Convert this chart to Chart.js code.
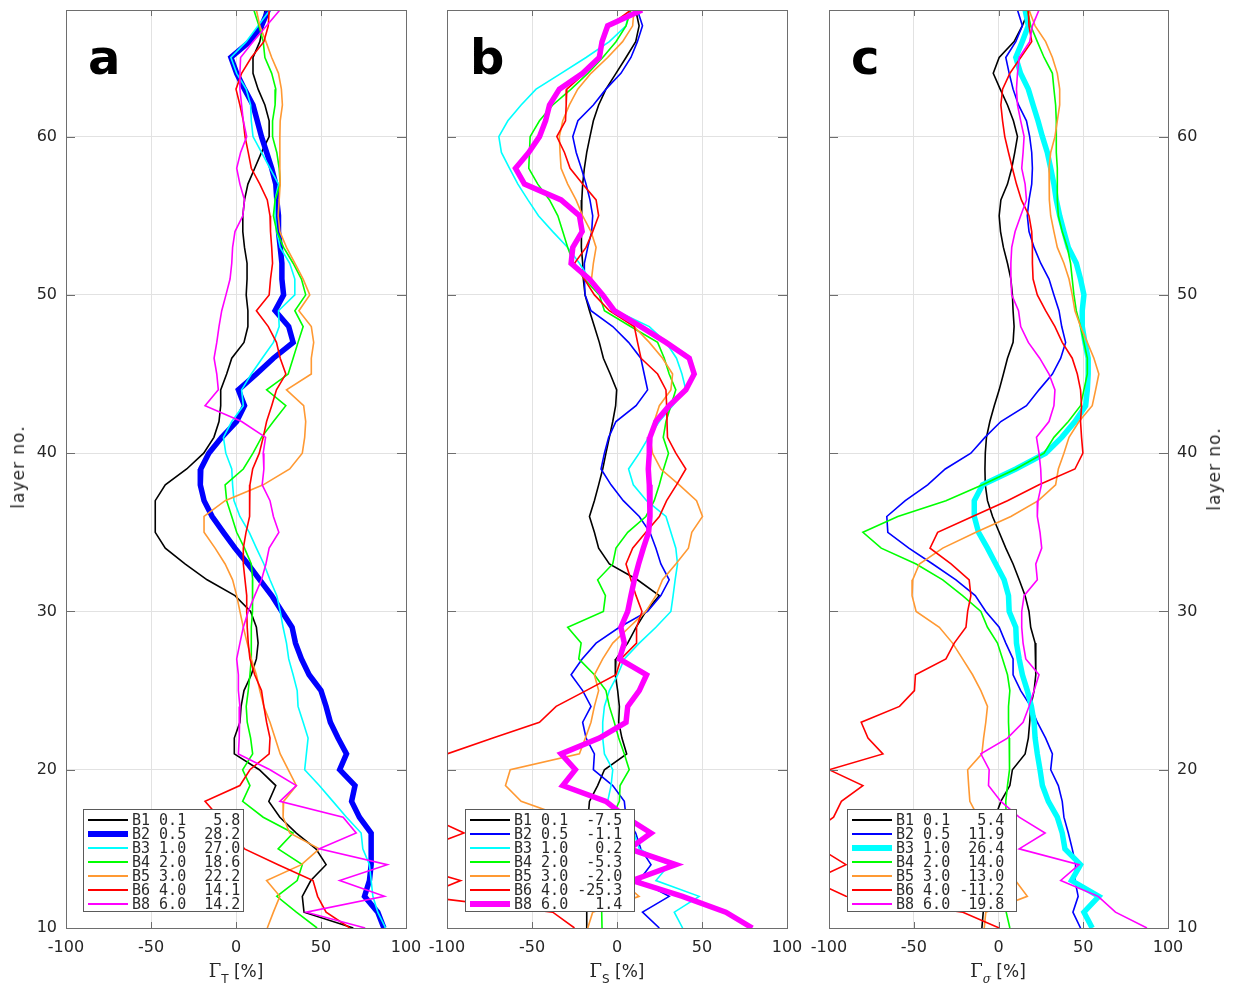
<!DOCTYPE html>
<html>
<head>
<meta charset="utf-8">
<script src="https://cdn.jsdelivr.net/npm/chart.js@4.4.1/dist/chart.umd.min.js"></script>
<style>
  body { margin: 0; background: #fff; }
  #lienzo { position: relative; width: 1234px; height: 987px; overflow: hidden; font-family: "DejaVu Sans", sans-serif; color: #262626; }
  #lienzo canvas { position: absolute; top: 0; }
  .letra { position: absolute; top: 33px; font: bold 48px "DejaVu Sans", sans-serif; line-height: 48px; color: #000; }
  .tituloY { position: absolute; font-size: 17px; letter-spacing: 1px; white-space: nowrap; transform: translate(-50%, -50%) rotate(-90deg); }
  .tituloX { position: absolute; top: 962px; font-size: 17px; line-height: 17px; white-space: nowrap; transform: translateX(-50%); }
  .tituloX .gamma { font-family: "DejaVu Serif", serif; font-size: 18px; }
  .tituloX sub { font-size: 12px; vertical-align: -6px; }
  .tituloX sub.sigma { font-family: "DejaVu Serif", serif; font-style: italic; }
  .leyenda { position: absolute; top: 809px; height: 103px; background: #fff; border: 1px solid #5a5a5a; box-sizing: border-box; }
  .leyenda .muestra { position: absolute; left: 4px; width: 40px; }
  .leyenda .texto { position: absolute; font: 15px "DejaVu Sans Mono", monospace; line-height: 14px; white-space: pre; color: #2b2b2b; }
</style>
</head>
<body>
<div id="lienzo">
  <canvas id="panelA" width="425" height="987" style="left:0px"></canvas>
  <canvas id="panelB" width="383" height="987" style="left:425px"></canvas>
  <canvas id="panelC" width="426" height="987" style="left:808px"></canvas>
</div>
<script>
// capas (eje vertical), de arriba hacia abajo
const capas = [68, 67, 66, 65, 64, 63, 62, 61, 60, 59, 58, 57, 56, 55, 54, 53, 52, 51, 50, 49,
  48, 47, 46, 45, 44, 43, 42, 41, 40, 39, 38, 37, 36, 35, 34, 33, 32, 31, 30, 29,
  28, 27, 26, 25, 24, 23, 22, 21, 20, 19, 18, 17, 16, 15, 14, 13, 12, 11, 10];

const nombres = ["B1", "B2", "B3", "B4", "B5", "B6", "B8"];
const dispersion = ["0.1", "0.5", "1.0", "2.0", "3.0", "4.0", "6.0"];
const colores = ["#000000", "#0000ff", "#00ffff", "#00ff00", "#ff9933", "#ff0000", "#ff00ff"];

// medias de la leyenda
const mediasT = ["5.8", "28.2", "27.0", "18.6", "22.2", "14.1", "14.2"];
const mediasS = ["-7.5", "-1.1", "0.2", "-5.3", "-2.0", "-25.3", "1.4"];
const mediasSig = ["5.4", "11.9", "26.4", "14.0", "13.0", "-11.2", "19.8"];

// panel a: Gamma_T [%]
const gT_B1 = [17, 16, 14, 10, 10, 13, 17, 19.5, 19.5, 15, 11, 7, 5, 4, 4, 5, 6.5, 6.5, 6, 7,
  7, 4.7, -2.5, -5.5, -9, -9, -10, -13, -19, -29, -41.6, -47.5, -47.5, -47.5, -41.6, -30, -17, -0.6, 8.6, 12,
  13, 12, 9, 4.7, 3, 2.3, -1, -1, 13.7, 23.4, 19.3, 25.8, 35.5, 47, 53, 44, 39, 40, 69];
const gT_B2 = [19, 15, 8, -3, 0.4, 5, 10, 12.5, 15, 18, 21, 23.4, 24, 25, 25, 26, 27, 27, 28, 23,
  31, 33.6, 22, 12, 1.4, 5, 0.4, -8.4, -16, -20.7, -21, -18.8, -14, -7.4, -0.6, 7, 14, 21, 27, 33,
  35, 38.5, 43, 50, 53, 55.5, 60, 65, 61, 70, 68, 72.6, 79.5, 79.5, 79.5, 78.5, 75.6, 83.4, 87];
const gT_B3 = [20, 13, 6, -3, 0.4, 6, 8.6, 9, 10, 15, 20, 25, 23, 23, 24, 26, 31.6, 34.6, 34.6, 25,
  25.4, 22, 15.4, 9, 3.3, 4.3, -2.5, -7.4, -6, -2.5, -2, -1.2, 2.3, 7.8, 12, 16.4, 20, 24, 26, 27.7,
  29.7, 31, 33.6, 36, 36.5, 39.5, 42.4, 41.4, 40.4, 49, 57, 65, 73.6, 74.6, 78.5, 79.5, 80.5, 83.4, 88];
const gT_B4 = [10.5, 13.5, 16, 17, 21, 23.4, 23, 21.5, 21.5, 24, 25.4, 26, 23, 22, 24, 28, 33.6, 38.5, 41, 34.6,
  39.5, 36.5, 33.6, 30.7, 18, 29.3, 22, 15, 10, 4.3, -6.4, -5.5, -2.5, 0.4, 5, 9, 9.8, 9.8, 9.6, 9,
  9, 9, 8.2, 7.2, 6, 6.6, 8.6, 9.8, 3.9, 8.2, 3.9, 16, 33.6, 24.8, 39, 36, 24, 35.5, 47.7];
const gT_B5 = [12, 14, 17.6, 21, 25, 26.7, 27.3, 26, 25.8, 25.8, 25.8, 26, 25.4, 24.8, 25.8, 29.7, 34.6, 39.5, 43.4, 37,
  44.3, 45.7, 44.3, 44.3, 29.7, 39.8, 41, 40.4, 39, 31.6, 16, -6.4, -18.8, -18.8, -12.3, -6.4, -2, 0.4, 2.3, 4.3,
  6.6, 9, 12, 14, 16.4, 20, 23, 26, 30.7, 35.5, 28, 27.7, 31.6, 49, 38.5, 18, 25.8, 22, 18.4];
const gT_B6 = [19.5, 19, 16.4, 9, 3.3, 0, 2.3, 4.3, 5.3, 7.2, 9, 14, 18.4, 20, 20.3, 21, 21.5, 20.3, 19.5, 12,
  19, 23.8, 26, 29.3, 23.8, 21, 18, 16, 13.7, 9.8, 8.2, 8.2, 7.8, 5.9, 4.3, 4.3, 5.3, 6.3, 6.3, 6.6,
  7.2, 8.2, 11, 15, 16.4, 18, 20, 19.5, 8.2, 2.3, -18.2, -10, -3, 5, 24.8, 45.3, 48, 53, 67];
const gT_B8 = [25.8, 18, 10, 2.7, 2.3, 2.3, 3.3, 4.3, 6.3, 2.7, 0.4, 2.3, 5, 4, -0.6, -2, -2.5, -3.5, -5.9, -8.4,
  -10, -11.3, -12.9, -11.3, -10.4, -18.2, 3.3, 17.4, 16, 16.4, 15.4, 20, 22, 25.2, 19.5, 17.6, 15, 11, 7.2, 4.3,
  2.3, 0.4, 1.4, 1.4, 2.3, 2, 1.8, 1.4, 20, 35.5, 25.8, 63, 70.7, 49, 89, 61, 87.3, 41.4, 76];

// panel b: Gamma_S [%]
const gS_B1 = [11, 13, 11, 5.3, -0.6, -6.5, -10.8, -13.9, -15.9, -17.8, -19.2, -20.2, -20.7, -21.1, -21.1, -20.7, -20.2, -19.8, -18.8, -16.2,
  -13.3, -10.4, -8, -4, -0.2, -0.8, -2.5, -4.5, -6.5, -8.4, -10.8, -13.3, -16.2, -13.3, -10.8, -4.5, 12, 24.9, 17, 11.2,
  6.3, -0.6, -1, 0.4, 1.4, 1, 2.9, 5.7, -7.4, -11.4, -16.2, -17, -17.5, -17.5, -17.5, -17.5, -17.8, -17.8, -17.8];
const gS_B2 = [12, 15, 12, 8.2, 2.3, -6.5, -13.9, -23, -26, -24, -21, -18.2, -15.9, -14.3, -14.9, -17.2, -19.2, -19.2, -18.8, -15.3,
  -2.5, 6.8, 14, 16, 18, 11.2, -0.6, -4.9, -7.4, -9.4, -3.5, 3.7, 13.1, 19.4, 22.9, 25.8, 30.7, 25.8, 18, 1.4,
  -12.3, -20.5, -27, -20.2, -15.3, -20.2, -18.2, -13.3, -13.9, -2.5, 4.3, 5.3, 11, 14, 20, 13, 30.7, 15, 24.9];
const gS_B3 = [7.2, 5.3, -4.5, -18.2, -32.9, -47.6, -56.4, -64.2, -69.5, -68, -63.2, -58.3, -52.4, -46.2, -37.8, -29, -22.1, -16.2, -9.4, -0.6,
  19, 28.8, 35, 38.2, 40.5, 32.7, 24.9, 18.6, 13.1, 6.8, 9.6, 17.4, 28.8, 31.7, 34.6, 35.6, 34.2, 33, 31.7, 22.9,
  13.1, 4.3, 0.4, -4.5, -7.4, -8.4, -8.4, -7.4, -2.5, -3.5, -5.5, 5, 10, 13.1, 30.7, 22.9, 48.3, 33.7, 38.6];
const gS_B4 = [8.2, 5.3, -0.6, -8.4, -17.2, -27, -37.8, -45.6, -51.1, -51.5, -51.9, -46.6, -39.7, -34.8, -31.9, -29, -25.6, -19.2, -10.4, -7.4,
  8, 23.9, 27.8, 30.7, 34.6, 31.7, 28.8, 27.2, 30.3, 27.4, 24.9, 21.9, 17, 6.3, -0.6, -2.5, -11.4, -6.8, -8, -29,
  -21.1, -22.5, -13.3, -6.5, -4.5, -1.6, 1, 4.3, 7.2, 1.8, 1.4, -3, -6, -8, -9, -9, -9, -9, -8.8];
const gS_B5 = [10, 9.2, 3.3, -5.5, -15.3, -23.1, -28, -31.9, -33.9, -33.5, -32.9, -29, -24.1, -20.2, -15.3, -12.3, -13.9, -15, -8, -3,
  10, 19, 26.8, 32.7, 31.7, 24.9, 21.9, 19.4, 20.9, 25.8, 36.6, 46.8, 50.3, 44, 42, 34.6, 26.8, 22.9, 17, 7.2,
  -2.5, -8.4, -13.3, -10.8, -13.3, -15.3, -18.6, -22.1, -62.8, -65.6, -56.4, -30, -20, -10, -3, 2, 13, -14.3, -17.2];
const gS_B6 = [8.2, -4.5, -8.4, -9.4, -19.2, -29.5, -29.9, -30.3, -35.4, -30.9, -27.6, -20.2, -12.3, -10.8, -14.3, -18.2, -25, -19.2, -13.3, -4.5,
  10.2, 12.1, 14.1, 23.9, 28.8, 29.2, 29.4, 29.7, 34.6, 40.5, 35, 29.2, 24.9, 17, 9.2, 5.3, 8.2, 11.2, 14.7, 11.5,
  11.5, 2.3, -0.6, -18.2, -35.8, -45.6, -73, -100, -130, -150, -125, -110, -90, -115, -125, -92, -115, -37.8, -25];
const gS_B8 = [14.7, -5.5, -8.8, -10.4, -20.2, -33.9, -39.7, -42, -45.6, -51.9, -59.7, -54.4, -32.9, -22.1, -20.5, -26, -27, -16.2, -8.4, -1.6,
  14, 28.8, 42.5, 45.4, 40.5, 30.7, 22.9, 19.4, 19, 18.4, 19, 19.4, 19.4, 18.6, 15.5, 12.7, 10.2, 8.2, 6.3, 2.3,
  4.3, 1.4, 17.4, 13.1, 6.3, 5.3, -10.4, -32.9, -24.5, -31.9, -6.5, 5.3, 20, 7.2, 34.6, 9, 38.5, 64, 79.6];

// panel c: Gamma_sigma [%]
const gSig_B1 = [18, 14, 9.2, 0.4, -3.1, 1, 5.3, 8.8, 11.2, 9.6, 7.8, 5.3, 1.4, 0.4, 1.2, 2.9, 5.3, 7.3, 8.2, 8.6,
  9.2, 8.6, 5.3, 2.9, 0.4, -2.5, -5.1, -7.1, -7.8, -8, -7.8, -6.5, -3.5, 0.4, 4.3, 8.6, 12.2, 15.7, 18, 19,
  21.6, 22, 22, 21, 19, 18.4, 17.6, 15.7, 8.2, 6.7, 1.4, -2, -5, -7, -8, -8.5, -9, -9, -9.8];
const gSig_B2 = [11.2, 14.1, 10.2, 4.3, 6.3, 8.6, 11.8, 16.5, 18.4, 19.6, 20, 19.6, 18, 17, 18, 21, 24.9, 29.8, 32.7, 35.7,
  37.3, 39.6, 36.7, 31.8, 23.9, 16.5, 1.4, -8, -16.3, -31.4, -41.8, -55, -65.9, -65.3, -52.9, -38.8, -25.1, -13.7, -7.5, 0.4,
  4.3, 8.6, 8.6, 13.1, 19, 22.9, 27.8, 31.8, 30.8, 35.3, 37.6, 38.6, 41.2, 43.5, 45.5, 45.1, 47, 43.9, 48.4];
const gSig_B3 = [15.7, 17.6, 14, 10.2, 13, 17.6, 20.4, 23.3, 25.9, 28.8, 30.8, 32.7, 34.1, 36.1, 38.6, 41.2, 45.9, 48.4, 50.4, 49.4,
  49.4, 51, 52.9, 52.9, 52.4, 51.4, 45.1, 37.3, 27.8, 10.2, -9.4, -14.3, -14.3, -11.8, -6.5, -1.6, 3.3, 5.9, 6.3, 10.2,
  10.6, 12.2, 14.1, 17, 19.4, 21, 21.6, 22.9, 24.5, 25.9, 29.4, 34.7, 37.6, 39.2, 48.4, 43.1, 59.2, 50.4, 55.3];
const gSig_B4 = [17, 19, 22.9, 26.9, 31.8, 32.7, 33.7, 34.1, 34.1, 34.1, 34.7, 34.7, 34.7, 35.3, 37.6, 40.6, 42.5, 43.5, 44.5, 45.9,
  48.4, 50.4, 52.4, 52.4, 50.4, 48.4, 41.2, 32.7, 26.9, 10.2, -9.4, -31, -59.4, -80, -69.2, -48.6, -32.9, -21.2, -10.4, -6.5,
  -0.6, 2.4, 5.3, 6.7, 5.9, 5.9, 6.3, 6.7, 6.3, 5.3, 4.3, 4.5, 4.5, 4.5, 4.5, 4.5, 4.5, 4.7, 6.7];
const gSig_B5 = [18, 21.6, 27.8, 31.8, 34.7, 36.1, 36.1, 34.7, 33.3, 30.8, 29.8, 29.8, 30.2, 30.8, 32.7, 34.7, 38.6, 41.6, 43.5, 45.1,
  48.4, 52.4, 56.3, 59.2, 57.3, 55.3, 47.5, 41.6, 38.6, 35.3, 33.7, 23.5, 7.3, -13.3, -32.9, -46.7, -50.6, -51, -48.6, -34.9,
  -27.1, -21.2, -15.3, -10.4, -6.5, -7.5, -8.8, -9.8, -18.2, -17.6, -16.9, -12, -8, -2, 5, 10, 17, -7.5, -8.4];
const gSig_B6 = [17.6, 18, 19.6, 13.1, 6.7, 2.4, 1.4, 2.4, 3.7, 5.9, 8.2, 10.6, 13.5, 18, 19.6, 20, 20, 20.4, 22.9, 27.8,
  33.3, 37.6, 43.5, 46.5, 48.4, 49, 48.4, 49, 49.8, 45.1, 23.9, 5.3, -15.3, -35.9, -40.4, -28, -17.3, -16.3, -18.2, -19.2,
  -26.1, -31, -49, -49.6, -58.4, -81, -77, -68.2, -100, -80, -92.7, -97.3, -110, -105, -90, -110, -90, -21, 0.4];
const gSig_B8 = [23.9, 20, 18.4, 12.2, 11.2, 10.6, 11.2, 13.1, 15.1, 14.5, 13.7, 15.7, 16.5, 13.1, 9.8, 7.8, 7.3, 7.3, 7.8, 11.8,
  13.1, 17.6, 24.3, 29.8, 33.3, 32.7, 29.8, 22.4, 23.9, 24.9, 25.3, 23.3, 22.9, 24.5, 25.5, 22, 22.9, 15.1, 13.7, 13.7,
  14.5, 16.1, 23.9, 21, 18, 14.5, 5.3, -10.4, -5.5, -5.9, 1.4, 12.2, 27.5, 12.2, 47.5, 36.7, 58.8, 69, 87.6];

const seriesT = [gT_B1, gT_B2, gT_B3, gT_B4, gT_B5, gT_B6, gT_B8];
const seriesS = [gS_B1, gS_B2, gS_B3, gS_B4, gS_B5, gS_B6, gS_B8];
const seriesSig = [gSig_B1, gSig_B2, gSig_B3, gSig_B4, gSig_B5, gSig_B6, gSig_B8];

const fuenteEjes = { family: "DejaVu Sans", size: 16 };
const colorTexto = "#262626";
const colorMarco = "#6e6e6e";

// marco tipo matlab: caja y marcas hacia dentro
const marcoMatlab = {
  id: "marcoMatlab",
  afterDraw(chart) {
    const { ctx, chartArea: a, scales } = chart;
    ctx.save();
    ctx.strokeStyle = colorMarco;
    ctx.lineWidth = 1;
    ctx.beginPath();
    scales.x.ticks.forEach((t) => {
      const px = Math.round(scales.x.getPixelForValue(t.value)) + 0.5;
      ctx.moveTo(px, a.bottom);
      ctx.lineTo(px, a.bottom - 6);
      ctx.moveTo(px, a.top);
      ctx.lineTo(px, a.top + 6);
    });
    scales.y.ticks.forEach((t) => {
      const py = Math.round(scales.y.getPixelForValue(t.value)) + 0.5;
      ctx.moveTo(a.left, py);
      ctx.lineTo(a.left + 9, py);
      ctx.moveTo(a.right, py);
      ctx.lineTo(a.right - 9, py);
    });
    ctx.stroke();
    ctx.strokeRect(Math.round(a.left) + 0.5, Math.round(a.top) + 0.5, Math.round(a.right - a.left), Math.round(a.bottom - a.top));
    ctx.restore();
  },
};

// quita el relleno extra que Chart.js reserva para las etiquetas de los extremos
function sinRelleno(s) {
  s.paddingTop = 0;
  s.paddingBottom = 0;
  s.paddingLeft = 0;
  s.paddingRight = 0;
}

function crearPanel(id, series, gruesa, opc) {
  const datasets = series.map((serie, i) => ({
    label: nombres[i],
    data: capas.map((c, k) => ({ x: serie[k], y: c })),
    borderColor: colores[i],
    borderWidth: i === gruesa ? 5.5 : 1.6,
    showLine: true,
    pointRadius: 0,
    tension: 0,
    order: 6 - i,
  }));

  new Chart(document.getElementById(id).getContext("2d"), {
    type: "scatter",
    data: { datasets },
    options: {
      responsive: false,
      animation: false,
      layout: { padding: { left: opc.padIzq, right: opc.padDer, top: 10, bottom: 0 } },
      plugins: { legend: { display: false }, tooltip: { enabled: false } },
      scales: {
        x: {
          type: "linear",
          min: -100,
          max: 100,
          ticks: { stepSize: 50, font: fuenteEjes, color: colorTexto, padding: 10, maxRotation: 0 },
          grid: { color: "#e2e2e2", drawTicks: false },
          border: { display: false },
          afterFit: (s) => { s.height = 59; sinRelleno(s); },
        },
        y: {
          type: "linear",
          position: opc.ladoY,
          min: 10,
          max: 68,
          ticks: { stepSize: 10, display: opc.etiquetasY, font: fuenteEjes, color: colorTexto, padding: 9 },
          grid: { color: "#e2e2e2", drawTicks: false },
          border: { display: false },
          afterBuildTicks: (s) => { s.ticks = s.ticks.filter((t) => t.value % 10 === 0); },
          afterFit: (s) => { s.width = opc.anchoY; sinRelleno(s); },
        },
      },
    },
    plugins: [marcoMatlab],
  });
}

crearPanel("panelA", seriesT, 1, { padIzq: 0, padDer: 19, ladoY: "left", etiquetasY: true, anchoY: 66 });
crearPanel("panelB", seriesS, 6, { padIzq: 0, padDer: 21, ladoY: "left", etiquetasY: false, anchoY: 22 });
crearPanel("panelC", seriesSig, 2, { padIzq: 21, padDer: 0, ladoY: "right", etiquetasY: true, anchoY: 66 });

// textos: letras, títulos de ejes y leyendas
const lienzo = document.getElementById("lienzo");
function agregar(html, clase, estilo) {
  const d = document.createElement("div");
  d.className = clase;
  d.innerHTML = html;
  Object.assign(d.style, estilo);
  lienzo.appendChild(d);
  return d;
}

agregar("a", "letra", { left: "88px" });
agregar("b", "letra", { left: "470px" });
agregar("c", "letra", { left: "851px" });

agregar("layer no.", "tituloY", { left: "18px", top: "467px" });
agregar("layer no.", "tituloY", { left: "1214px", top: "469px" });

agregar('<span class="gamma">Γ</span><sub>T</sub> [%]', "tituloX", { left: "236px" });
agregar('<span class="gamma">Γ</span><sub>S</sub> [%]', "tituloX", { left: "617px" });
agregar('<span class="gamma">Γ</span><sub class="sigma">σ</sub> [%]', "tituloX", { left: "998px" });

function crearLeyenda(izq, ancho, medias, gruesa, xTexto) {
  const caja = agregar("", "leyenda", { left: izq + "px", width: ancho + "px" });
  nombres.forEach((n, i) => {
    const cy = 10 + 14 * i;
    const grosor = i === gruesa ? 5.5 : 1.6;
    const linea = document.createElement("div");
    linea.className = "muestra";
    Object.assign(linea.style, { top: cy - grosor / 2 + "px", height: grosor + "px", background: colores[i] });
    caja.appendChild(linea);
    const txt = document.createElement("div");
    txt.className = "texto";
    txt.textContent = n + " " + dispersion[i] + " " + medias[i].padStart(5, " ");
    Object.assign(txt.style, { top: cy - 7 + "px", left: xTexto + "px" });
    caja.appendChild(txt);
  });
}

crearLeyenda(83, 161, mediasT, 1, 48);
crearLeyenda(465, 170, mediasS, 6, 48);
crearLeyenda(847, 170, mediasSig, 2, 48);
</script>
</body>
</html>
